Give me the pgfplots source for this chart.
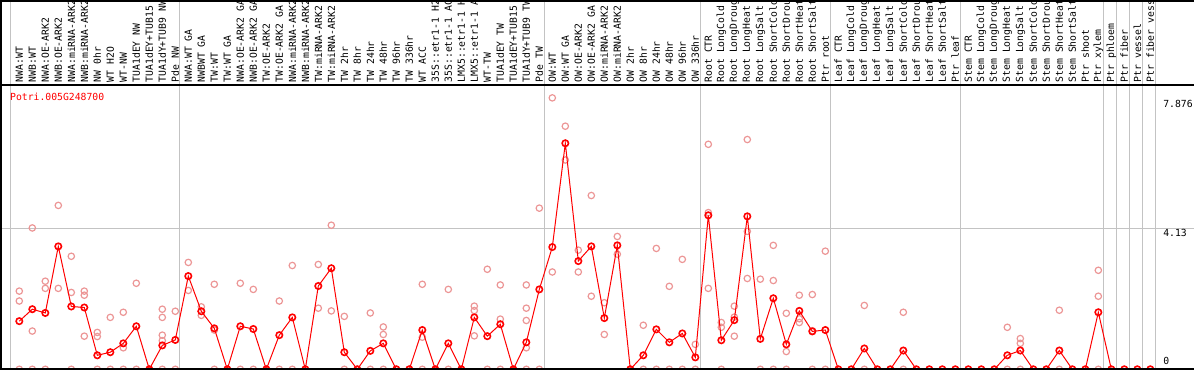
\documentclass[border=0pt]{standalone}
\usepackage{fontspec}
\usepackage{pgfplots}
\usepackage{pgfplotstable}
\pgfplotsset{compat=1.18}
\newfontfamily\monof{DejaVu Sans Mono}
\newcommand\lab{\monof\fontsize{9.8}{10}\selectfont}
\definecolor{pinkrep}{RGB}{236,150,150}
\definecolor{gridgray}{RGB}{195,195,195}
\pgfplotstableread{
x y
1 1.41
2 1.76
3 1.65
4 3.60
5 1.84
6 1.81
7 0.41
8 0.50
9 0.76
10 1.26
11 0
12 0.70
13 0.86
14 2.73
15 1.70
16 1.20
17 0
18 1.26
19 1.18
20 0
21 1.00
22 1.52
23 0
24 2.44
25 2.96
26 0.50
27 0
28 0.54
29 0.76
30 0
31 0
32 1.15
33 0
34 0.76
35 0
36 1.52
37 0.97
38 1.32
39 0
40 0.79
41 2.34
42 3.58
43 6.62
44 3.17
45 3.60
46 1.50
47 3.63
48 0
49 0.41
50 1.17
51 0.79
52 1.05
53 0.35
54 4.51
55 0.85
56 1.44
57 4.48
58 0.89
59 2.08
60 0.73
61 1.71
62 1.11
63 1.15
64 0
65 0
66 0.61
67 0
68 0
69 0.55
70 0
71 0
72 0
73 0
74 0
75 0
76 0
77 0.41
78 0.55
79 0
80 0
81 0.55
82 0
83 0
84 1.67
85 0
86 0
87 0
88 0
}\means
\pgfplotstableread{
x y
1 2.29
1 2.00
1 0
2 4.14
2 1.12
2 0
3 2.58
3 2.37
3 0
4 4.80
4 2.37
5 3.31
5 2.25
5 0
6 2.29
6 2.17
6 0.97
7 1.08
7 0.96
7 0
8 1.52
8 0
9 1.67
9 0.63
9 0
10 2.52
10 0
11 0
12 1.76
12 1.52
12 1.00
12 0.84
12 0
13 1.70
13 0
14 3.13
14 2.31
15 1.83
15 1.58
16 2.49
16 1.15
16 0
17 0
18 2.52
18 0
19 2.34
19 0
20 0
21 2.00
21 0
22 3.04
22 0
23 0
24 3.07
24 1.79
25 4.22
25 1.71
26 1.55
26 0
27 0
28 1.65
28 0
29 1.24
29 1.02
29 0
30 0
31 0
32 2.49
32 0.94
32 0
33 0
34 2.34
34 0
35 0
36 1.85
36 1.72
36 0.98
37 2.93
37 0
38 2.47
38 1.47
38 0
39 0
40 2.47
40 1.79
40 1.43
40 0.63
40 0
41 4.72
41 0
42 7.95
42 2.85
43 7.12
43 6.13
44 3.49
44 2.85
45 5.09
45 2.14
46 1.95
46 1.02
47 3.89
47 3.37
48 0
49 1.29
49 0
50 3.54
50 0
51 2.43
51 0
52 3.22
52 0
53 0.73
53 0
54 6.59
54 4.59
54 2.37
55 1.37
55 1.23
55 0
56 1.85
56 1.53
56 0.97
57 6.73
57 4.04
57 2.66
58 2.64
58 0
59 3.63
59 2.60
59 0
60 1.64
60 0.52
60 0
61 2.17
61 1.48
61 1.37
62 2.19
62 1.13
62 0
63 3.46
63 0
66 1.87
66 0
69 1.67
69 0
77 1.23
77 0
78 0.90
78 0.76
78 0
81 1.73
81 0
84 2.90
84 2.14
84 0
}\reps
\begin{document}
\begin{tikzpicture}
\begin{axis}[
  scale only axis, width=1194bp, height=284.3bp,
  xmin=-0.4846, xmax=91.36, ymin=0, ymax=8.327,
  axis line style={draw=none},
  clip marker paths=true,
  xtick={1,...,88},
  xticklabels={NWA:WT,NWB:WT,NWA:OE-ARK2,NWB:OE-ARK2,NWA:miRNA-ARK2,NWB:miRNA-ARK2,NW 0hr,WT H2O,WT-NW,TUA1dEY NW,TUA1dEY+TUB15,TUA1dY+TUB9 NW,Pde NW,NWA:WT GA,NWBWT GA,TW:WT,TW:WT GA,NWA:OE-ARK2 GA,NWB:OE-ARK2 GA,TW:OE-ARK2,TW:OE-ARK2 GA,NWA:miRNA-ARK2,NWB:miRNA-ARK2,TW:miRNA-ARK2,TW:miRNA-ARK2,TW 2hr,TW 8hr,TW 24hr,TW 48hr,TW 96hr,TW 336hr,WT ACC,35S::etr1-1 H2,35S::etr1-1 AC,LMX5::etr1-1 H,LMX5::etr1-1 A,WT-TW,TUA1dEY TW,TUA1dEY+TUB15,TUA1dY+TUB9 TW,Pde TW,OW:WT,OW:WT GA,OW:OE-ARK2,OW:OE-ARK2 GA,OW:miRNA-ARK2,OW:miRNA-ARK2,OW 2hr,OW 8hr,OW 24hr,OW 48hr,OW 96hr,OW 336hr,Root CTR,Root LongCold,Root LongDroug,Root LongHeat,Root LongSalt,Root ShortCold,Root ShortDrou,Root ShortHeat,Root ShortSalt,Ptr root,Leaf CTR,Leaf LongCold,Leaf LongDroug,Leaf LongHeat,Leaf LongSalt,Leaf ShortCold,Leaf ShortDrou,Leaf ShortHeat,Leaf ShortSalt,Ptr leaf,Stem CTR,Stem LongCold,Stem LongDroug,Stem LongHeat,Stem LongSalt,Stem ShortCold,Stem ShortDrou,Stem ShortHeat,Stem ShortSalt,Ptr shoot,Ptr xylem,Ptr phloem,Ptr fiber,Ptr vessel,Ptr fiber vess},
  xticklabel pos=upper,
  xticklabel style={rotate=90, anchor=west, font=\lab, inner xsep=2.5bp, inner ysep=0pt},
  xtick style={draw=none},
  extra x ticks={0.285,13.35,41.39,53.38,63.38,73.42,84.39,85.39,86.39,87.39,88.39},
  extra x tick labels={},
  extra x tick style={grid=major},
  ytick={4.13}, yticklabels={}, ymajorgrids, ytick style={draw=none},
  grid style={gridgray, line width=1bp},
]
\addplot[only marks, mark=o, pinkrep, mark size=3.2bp, mark options={line width=1.2bp}] table {\reps};
\addplot[red, line width=1bp, mark=o, mark size=3.2bp, mark options={line width=1.6bp}] table {\means};
\node[anchor=north west, inner sep=0pt, font=\lab] at (axis cs:88.98,7.876) {7.876};
\node[anchor=north west, inner sep=0pt, font=\lab, yshift=-1bp] at (axis cs:88.98,4.13) {4.13};
\node[anchor=south west, inner sep=0pt, font=\lab, yshift=4bp] at (axis cs:88.98,0) {0};
\coordinate (g1) at (axis cs:0.285,8.327);
\coordinate (g2) at (axis cs:13.35,8.327);
\coordinate (g3) at (axis cs:41.39,8.327);
\coordinate (g4) at (axis cs:53.38,8.327);
\coordinate (g5) at (axis cs:63.38,8.327);
\coordinate (g6) at (axis cs:73.42,8.327);
\coordinate (g7) at (axis cs:84.39,8.327);
\coordinate (g8) at (axis cs:85.39,8.327);
\coordinate (g9) at (axis cs:86.39,8.327);
\coordinate (g10) at (axis cs:87.39,8.327);
\coordinate (g11) at (axis cs:88.39,8.327);
\end{axis}
\foreach \n in {1,...,11} \draw[gridgray, line width=1bp] (g\n) -- ++(0,85bp);
\coordinate (TL) at ([yshift=85bp]current axis.north west);
\coordinate (TR) at ([yshift=85bp]current axis.north east);
\draw[black, line width=2bp] ([xshift=1bp]TL) -- ([xshift=1bp]current axis.south west);
\draw[black, line width=2bp] ([yshift=-1bp]TL) -- ([yshift=-1bp]TR);
\draw[black, line width=1.5bp] (current axis.north west) -- (current axis.north east);
\draw[black, line width=2bp] (current axis.south west) -- (current axis.south east);
\node[anchor=west, inner sep=0pt, text=red, font=\lab] at ([xshift=10bp,yshift=-12bp]current axis.north west) {Potri.005G248700};
\pgfresetboundingbox
\path ([yshift=-0.7bp]current axis.south west) rectangle (TR);
\end{tikzpicture}
\end{document}
